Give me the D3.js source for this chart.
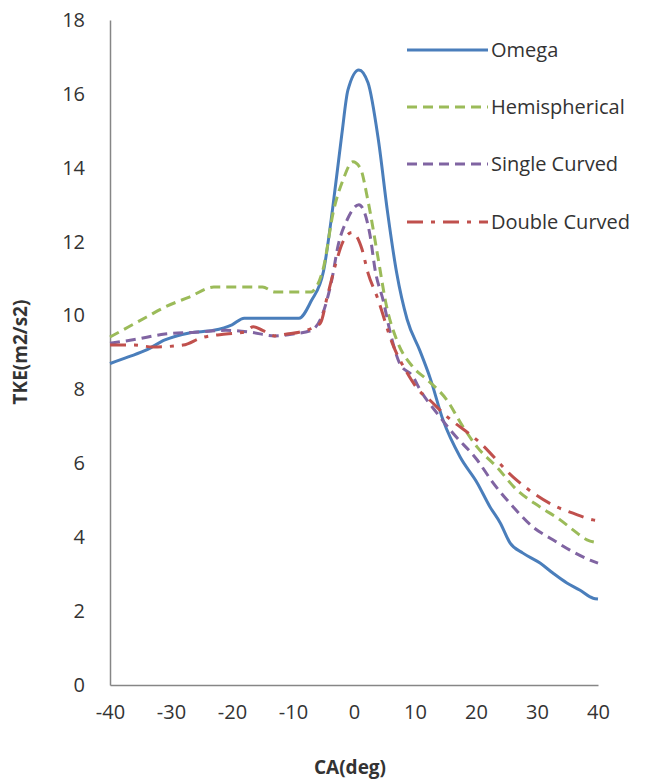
<!DOCTYPE html>
<html>
<head>
	<meta charset="utf-8">
	<title>TKE vs CA</title>
	<script type="text/javascript" src="https://cdn.jsdelivr.net/npm/d3@7/dist/d3.min.js"></script>
	<style>
		body { margin: 0; background: #fff; }
		text { font-family: "Open Sans", sans-serif; fill: #333; }
	</style>
</head>
<body>
	<script type="text/javascript">
		// values
		var xTicks = [-40, -30, -20, -10, 0, 10, 20, 30, 40];
		var yTicks = [0, 2, 4, 6, 8, 10, 12, 14, 16, 18];

		var omegaCA  = [-40, -37, -34, -31, -27, -23, -20, -18, -14, -9, -7, -5, -3.5, -2, -1, 0.8, 2.3, 4, 5.5, 7, 8.7, 10.8, 12.5, 14.6, 17.4, 20.2, 22.3, 24, 25.6, 27.7, 30.5, 32.6, 34.9, 37, 39.2, 40];
		var omegaTKE = [8.7, 8.88, 9.07, 9.34, 9.53, 9.6, 9.75, 9.93, 9.93, 9.93, 10.4, 11.2, 12.9, 14.9, 16.1, 16.65, 16.3, 14.75, 12.8, 11.15, 9.9, 9.05, 8.3, 7.17, 6.17, 5.47, 4.82, 4.38, 3.84, 3.57, 3.3, 3.03, 2.76, 2.57, 2.35, 2.33];

		var hemiCA  = [-40, -37, -34, -31, -27, -23, -15, -13, -7, -6.5, -5, -3.4, -1.8, -0.2, 1, 2.3, 3.8, 5.4, 7, 9.7, 12, 15.2, 17.9, 20.2, 23.4, 26.7, 30.5, 33.8, 35.9, 38.2, 40];
		var hemiTKE = [9.42, 9.69, 9.96, 10.23, 10.5, 10.77, 10.77, 10.64, 10.64, 10.7, 11.3, 12.8, 13.67, 14.16, 14.0, 13.1, 11.7, 10.2, 9.34, 8.6, 8.26, 7.72, 6.98, 6.44, 5.9, 5.28, 4.82, 4.47, 4.2, 3.93, 3.85];

		var singleCA  = [-40, -36, -31, -26, -21, -17, -13, -10, -7, -5.5, -3.6, -2.6, -1.1, 0.8, 2.6, 3.5, 4.8, 6, 7.5, 9.7, 10.8, 13.6, 16.2, 20.2, 22.8, 26.1, 29.3, 32.6, 35.4, 38.7, 40];
		var singleTKE = [9.25, 9.35, 9.5, 9.55, 9.6, 9.55, 9.45, 9.5, 9.6, 9.9, 11.0, 11.9, 12.6, 13.0, 12.2, 11.2, 10.4, 9.5, 8.7, 8.34, 8.0, 7.36, 6.82, 6.09, 5.47, 4.82, 4.28, 3.93, 3.65, 3.38, 3.3];

		var doubleCA  = [-40, -36, -33, -28, -25, -21, -18, -16.5, -15, -13, -11, -9, -7, -5.5, -4.4, -3, -1.8, -0.3, 1.3, 2.3, 3.8, 6.4, 8.7, 10.5, 12.5, 14.6, 20.7, 26.1, 32.6, 35.9, 39.2, 40];
		var doubleTKE = [9.2, 9.2, 9.15, 9.2, 9.4, 9.5, 9.55, 9.7, 9.6, 9.45, 9.5, 9.55, 9.65, 9.8, 10.5, 11.4, 12.0, 12.25, 11.8, 11.15, 10.5, 9.2, 8.45, 8.0, 7.7, 7.36, 6.55, 5.63, 4.87, 4.65, 4.47, 4.45];

		var seriesNames = ["Omega", "Hemispherical", "Single Curved", "Double Curved"];
		var seriesCA = [omegaCA, hemiCA, singleCA, doubleCA];
		var seriesTKE = [omegaTKE, hemiTKE, singleTKE, doubleTKE];
		var colors = ["#4a7ebb", "#9bbb59", "#8064a2", "#c0504d"];
		var dashes = [null, "10,6", "10,6", "16,8,4,8"];

		var width = 646, height = 784;
		var svg = d3.select("body").append("svg")
			.attr("width", width)
			.attr("height", height);

		var x = d3.scaleLinear().domain([-40, 40]).range([110, 598]);
		var y = d3.scaleLinear().domain([0, 18]).range([685, 20]);

		// plain hyphen for negatives, like the original
		var fmt = function(d) { return String(d); };

		var yAxis = svg.append("g")
			.attr("transform", "translate(110,0)")
			.call(d3.axisLeft(y).tickValues(yTicks).tickFormat(fmt).tickSize(0).tickPadding(25));
		var xAxis = svg.append("g")
			.attr("transform", "translate(0,685)")
			.call(d3.axisBottom(x).tickValues(xTicks).tickFormat(fmt).tickSize(0).tickPadding(20));

		[xAxis, yAxis].forEach(function(g) {
			g.select(".domain").attr("stroke", "#868686").attr("stroke-width", 1.5);
			g.selectAll("text")
				.style("font-family", "'Open Sans', sans-serif")
				.style("font-size", "20px")
				.attr("fill", "#333");
		});

		svg.append("text")
			.attr("x", 350).attr("y", 774)
			.attr("text-anchor", "middle")
			.style("font-weight", "bold")
			.style("font-size", "19px")
			.text("CA(deg)");

		svg.append("text")
			.attr("transform", "translate(27,352) rotate(-90)")
			.attr("text-anchor", "middle")
			.style("font-weight", "bold")
			.style("font-size", "19px")
			.text("TKE(m2/s2)");

		var line = d3.line()
			.x(function(d) { return x(d[0]); })
			.y(function(d) { return y(d[1]); })
			.curve(d3.curveMonotoneX);

		seriesNames.forEach(function(name, i) {
			var pts = d3.zip(seriesCA[i], seriesTKE[i]);
			svg.append("path")
				.datum(pts)
				.attr("d", line)
				.attr("fill", "none")
				.attr("stroke", colors[i])
				.attr("stroke-width", 3)
				.attr("stroke-dasharray", dashes[i]);
		});

		// legend
		var legend = svg.append("g");
		var legendY = [50, 107, 164, 222];
		seriesNames.forEach(function(name, i) {
			legend.append("line")
				.attr("x1", 407).attr("x2", 488)
				.attr("y1", legendY[i]).attr("y2", legendY[i])
				.attr("stroke", colors[i])
				.attr("stroke-width", 3)
				.attr("stroke-dasharray", dashes[i]);
			legend.append("text")
				.attr("x", 491).attr("y", legendY[i])
				.attr("dy", "0.35em")
				.style("font-size", "20px")
				.text(name);
		});
	</script>
</body>
</html>
